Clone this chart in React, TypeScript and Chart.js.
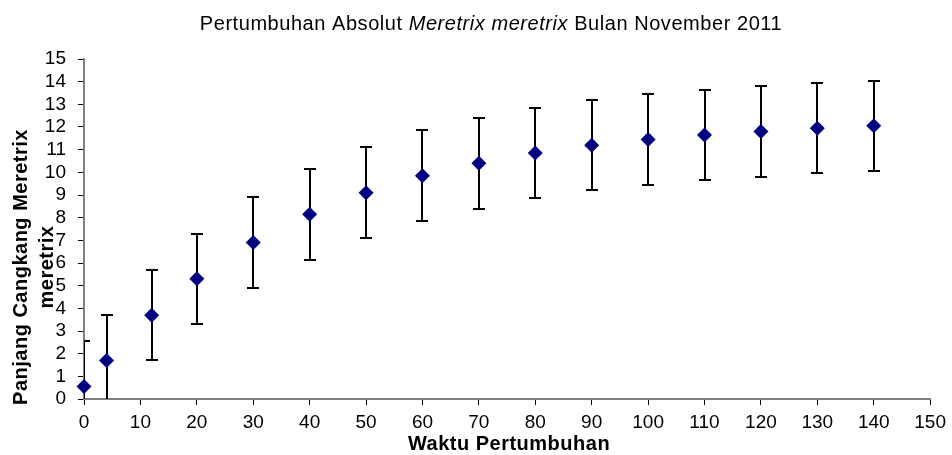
import React, { useEffect, useRef } from 'react';
import { Chart, registerables } from 'chart.js';

Chart.register(...registerables);

// ---- data ----
const titleParts = [
  { text: 'Pertumbuhan Absolut ', italic: false },
  { text: 'Meretrix meretrix', italic: true },
  { text: ' Bulan November 2011', italic: false },
];
const xAxisTitle = 'Waktu Pertumbuhan';
const yAxisTitleLines = ['Panjang Cangkang Meretrix', 'meretrix'];

const days = [0, 4, 12, 20, 30, 40, 50, 60, 70, 80, 90, 100, 110, 120, 130, 140];
const lengths = [0.55, 1.7, 3.7, 5.3, 6.9, 8.15, 9.1, 9.85, 10.4, 10.85, 11.2, 11.45, 11.65, 11.8, 11.95, 12.05];
const errors = [2, 2, 2, 2, 2, 2, 2, 2, 2, 2, 2, 2, 2, 2, 2, 2];

const xMin = 0;
const xMax = 150;
const xStep = 10;
const yMin = 0;
const yMax = 15;
const yStep = 1;

const FONT = "'Liberation Sans', Arial, sans-serif";

const errorBarPlugin = {
  id: 'errorBars',
  beforeDatasetsDraw(chart: any) {
    const { ctx, chartArea, scales } = chart;
    const xs = scales.x;
    const ys = scales.y;
    ctx.save();
    ctx.beginPath();
    ctx.rect(chartArea.left, chartArea.top, chartArea.right - chartArea.left, chartArea.bottom - chartArea.top);
    ctx.clip();
    ctx.strokeStyle = '#000';
    ctx.lineWidth = 2;
    const cap = 6;
    for (let i = 0; i < days.length; i++) {
      const px = Math.round(xs.getPixelForValue(days[i]));
      const top = Math.round(ys.getPixelForValue(lengths[i] + errors[i]));
      const bot = Math.round(ys.getPixelForValue(lengths[i] - errors[i]));
      ctx.beginPath();
      ctx.moveTo(px, top);
      ctx.lineTo(px, bot);
      ctx.moveTo(px - cap, top);
      ctx.lineTo(px + cap, top);
      ctx.moveTo(px - cap, bot);
      ctx.lineTo(px + cap, bot);
      ctx.stroke();
    }
    ctx.restore();
  },
};

const textPlugin = {
  id: 'texts',
  afterDraw(chart: any) {
    const { ctx } = chart;
    ctx.save();
    ctx.fillStyle = '#000';
    ctx.textBaseline = 'alphabetic';
    (ctx as any).letterSpacing = '0.55px';
    // title with mixed styles
    const size = 20;
    const widths = titleParts.map((p) => {
      ctx.font = `${p.italic ? 'italic ' : ''}${size}px ${FONT}`;
      return ctx.measureText(p.text).width;
    });
    const total = widths.reduce((a, b) => a + b, 0);
    let x = 491 - total / 2;
    ctx.textAlign = 'left';
    titleParts.forEach((p, i) => {
      ctx.font = `${p.italic ? 'italic ' : ''}${size}px ${FONT}`;
      ctx.fillText(p.text, x, 30);
      x += widths[i];
    });
    // x axis title
    (ctx as any).letterSpacing = '0.5px';
    ctx.font = `bold 20px ${FONT}`;
    ctx.textAlign = 'center';
    ctx.fillText(xAxisTitle, 509, 450);
    // y axis title
    ctx.translate(27, 267);
    ctx.rotate(-Math.PI / 2);
    ctx.fillText(yAxisTitleLines[0], 0, 0);
    ctx.fillText(yAxisTitleLines[1], 0, 26);
    ctx.restore();
  },
};

export default function App() {
  const ref = useRef<HTMLCanvasElement | null>(null);
  useEffect(() => {
    if (!ref.current) return;
    const chart = new Chart(ref.current, {
      type: 'scatter',
      data: {
        datasets: [
          {
            data: days.map((d, i) => ({ x: d, y: lengths[i] })),
            pointStyle: 'rectRot',
            pointRadius: 7.5,
            pointHoverRadius: 7.5,
            backgroundColor: '#000080',
            borderColor: '#000080',
            borderWidth: 0,
            clip: false,
          } as any,
        ],
      },
      options: {
        animation: false,
        responsive: false,
        events: [],
        layout: { padding: { left: 0, top: 59, right: 19, bottom: 0 } },
        plugins: { legend: { display: false }, title: { display: false }, tooltip: { enabled: false } },
        scales: {
          x: {
            type: 'linear',
            min: xMin,
            max: xMax,
            afterFit: (s: any) => { s.height = 56; },
            ticks: { stepSize: xStep, color: '#000', font: { family: FONT, size: 19 }, padding: 6, maxRotation: 0, autoSkip: false },
            grid: { display: true, drawOnChartArea: false, drawTicks: true, tickLength: 6, color: '#000', lineWidth: 1 },
            border: { display: true, color: '#808080', width: 2 },
          },
          y: {
            type: 'linear',
            min: yMin,
            max: yMax,
            afterFit: (s: any) => { s.width = 84; },
            ticks: { stepSize: yStep, color: '#000', font: { family: FONT, size: 19 }, padding: 12, autoSkip: false },
            grid: { display: true, drawOnChartArea: false, drawTicks: true, tickLength: 6, color: '#000', lineWidth: 1 },
            border: { display: true, color: '#808080', width: 2 },
          },
        },
      },
      plugins: [errorBarPlugin, textPlugin],
    });
    return () => chart.destroy();
  }, []);
  return (
    <div style={{ position: 'fixed', left: 0, top: 0, width: 952, height: 455, background: '#fff' }}>
      <canvas ref={ref} width={952} height={455} style={{ display: 'block', width: 952, height: 455 }} />
    </div>
  );
}
